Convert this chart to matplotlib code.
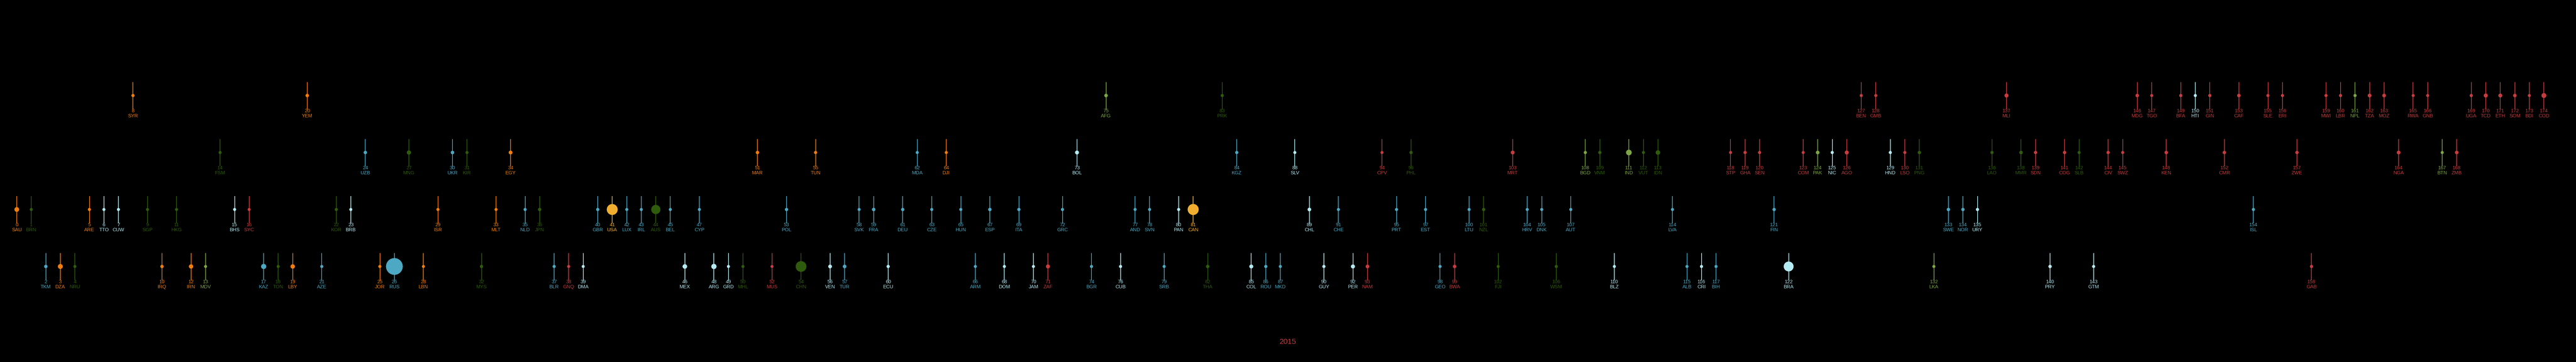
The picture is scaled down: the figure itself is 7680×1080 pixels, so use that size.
import matplotlib
matplotlib.use("Agg")
import matplotlib.pyplot as plt
from matplotlib import font_manager

# ranked countries, 2015
codes = ["SAU", "BRN", "TKM", "DZA", "NRU", "ARE", "TTO", "CUW", "SYR", "SGP",
         "IRQ", "HKG", "IRN", "MDV", "FSM", "BHS", "SYC", "KAZ", "TON", "LBY",
         "YEM", "AZE", "KOR", "BRB", "UZB", "JOR", "RUS", "MNG", "LBN", "ISR",
         "UKR", "KIR", "MYS", "MLT", "EGY", "NLD", "JPN", "BLR", "GNQ", "DMA",
         "GBR", "USA", "LUX", "IRL", "AUS", "BEL", "MEX", "CYP", "ARG", "GRD",
         "MHL", "MAR", "MUS", "POL", "CHN", "TUN", "VEN", "TUR", "SVK", "FRA",
         "ECU", "DEU", "MDA", "CZE", "DJI", "HUN", "ARM", "ESP", "DOM", "ITA",
         "JAM", "ZAF", "GRC", "BOL", "BGR", "AFG", "CUB", "AND", "SVN", "SRB",
         "PAN", "CAN", "THA", "PRK", "KGZ", "COL", "ROU", "MKD", "SLV", "CHL",
         "GUY", "CHE", "PER", "NAM", "CPV", "PRT", "PHL", "EST", "GEO", "BWA",
         "LTU", "NZL", "FJI", "MRT", "HRV", "DNK", "WSM", "AUT", "BGD", "VNM",
         "BLZ", "IND", "VUT", "IDN", "LVA", "ALB", "CRI", "BIH", "STP", "GHA",
         "SEN", "FIN", "BRA", "COM", "PAK", "NIC", "AGO", "BEN", "GMB", "HND",
         "LSO", "PNG", "LKA", "SWE", "NOR", "URY", "LAO", "MLI", "MMR", "SDN",
         "PRY", "COG", "SLB", "GTM", "CIV", "SWZ", "MDG", "TGO", "KEN", "BFA",
         "HTI", "GIN", "CMR", "CAF", "ISL", "SLE", "ERI", "ZWE", "GAB", "MWI",
         "LBR", "NPL", "TZA", "MOZ", "NGA", "RWA", "GNB", "BTN", "ZMB", "UGA",
         "TCD", "ETH", "SOM", "BDI", "COD"]

# income group: L low, M lower middle, H high, U upper middle
income = list("HHUUUHHHLH" "UHUUMHHUUU" "LUHHMUUMUH" "MMUHMHHUUU"
              "HHHHHHUHUU" "UMUHUMUUHH" "UHMHMHUHUH" "UUHMULUHHU"
              "HHULMUUUMH" "UHUUMHMHUU" "HHUMHHUHMM" "UMMMHUUUMM"
              "MHUMMMMLLM" "MMUHHHMLMM" "UMMUMMLLML" "LLMLHLLMUL"
              "LLLLMLLMML" "LLLLL")

# region: M mid-east/n.africa, E east asia/pacific, S south asia,
# C europe/central asia, A latin america, F sub-saharan africa, N north america
region = list("MECMEMAAME" "MEMSEAFCEM" "MCEACMCEMM" "CEEMMCECFA"
              "CNCCECACAA" "EMFCEMACCC" "ACCCMCCCAC" "AFCACSACCC"
              "ANEECACCAA" "ACAFFCECCF" "CEEFCCECSE" "ASEECCACFF"
              "FCAFSAFFFA" "FESCCAEFEF" "AFEAFFFFFF" "AFFFCFFFFF"
              "FSFFFFFSFF" "FFFFF")

# land area, million km2 (marker size)
area = [2.15, 0.006, 0.49, 2.38, 0.0, 0.08, 0.005, 0.0, 0.185, 0.0,
        0.435, 0.001, 1.63, 0.0, 0.0, 0.014, 0.0, 2.72, 0.0, 1.76,
        0.53, 0.087, 0.1, 0.0, 0.45, 0.089, 17.1, 1.56, 0.01, 0.022,
        0.6, 0.001, 0.33, 0.0, 1.0, 0.042, 0.378, 0.207, 0.028, 0.001,
        0.243, 9.83, 0.003, 0.07, 7.69, 0.03, 1.96, 0.009, 2.78, 0.0,
        0.0, 0.446, 0.002, 0.313, 9.6, 0.164, 0.916, 0.78, 0.049, 0.55,
        0.256, 0.357, 0.034, 0.079, 0.023, 0.093, 0.03, 0.506, 0.049, 0.301,
        0.011, 1.22, 0.132, 1.1, 0.111, 0.653, 0.11, 0.0, 0.02, 0.088,
        0.075, 9.98, 0.513, 0.12, 0.2, 1.14, 0.238, 0.026, 0.021, 0.756,
        0.215, 0.041, 1.29, 0.824, 0.004, 0.092, 0.3, 0.045, 0.07, 0.58,
        0.065, 0.27, 0.018, 1.03, 0.057, 0.043, 0.003, 0.084, 0.148, 0.331,
        0.023, 3.29, 0.012, 1.9, 0.065, 0.029, 0.051, 0.051, 0.001, 0.239,
        0.197, 0.338, 8.5, 0.002, 0.796, 0.13, 1.25, 0.115, 0.011, 0.112,
        0.03, 0.463, 0.066, 0.45, 0.385, 0.176, 0.237, 1.24, 0.677, 0.3,
        0.407, 0.342, 0.029, 0.109, 0.322, 0.017, 0.587, 0.057, 0.58, 0.274,
        0.028, 0.246, 0.475, 0.623, 0.103, 0.072, 0.118, 0.39, 0.268, 0.118,
        0.111, 0.147, 0.947, 0.8, 0.924, 0.026, 0.036, 0.038, 0.753, 0.241,
        1.28, 1.1, 0.638, 0.028, 2.34]

year = "2015"

row_of = {"L": 3, "M": 2, "H": 1, "U": 0}
colors = {"M": "#f27d0c", "E": "#2f5b0c", "S": "#7da544", "C": "#4ca8c3",
          "A": "#b5ebf3", "F": "#c63c3f", "N": "#f1ae2e"}

fam = "Liberation Sans Narrow"
try:
    font_manager.findfont(fam, fallback_to_default=False)
except Exception:
    fam = "Liberation Sans"

W, H = 7680, 1080
fig = plt.figure(figsize=(W / 100, H / 100), dpi=100, facecolor="black")
ax = fig.add_axes([0, 0, 1, 1])
ax.set_facecolor("black")
step = 43.3
row_h = 170.0
x0 = -50 / step
ax.set_xlim(x0, x0 + W / step)
y0 = -285 / row_h
ax.set_ylim(y0, y0 + H / row_h)
ax.axis("off")

pt = 0.72  # points per pixel at 100 dpi
for i, code in enumerate(codes):
    y = row_of[income[i]]
    c = colors[region[i]]
    ax.vlines(i, y - 41 / row_h, y + 40 / row_h, color=c, lw=2 * pt, zorder=1)
    d = 9 + 2.4 * area[i]
    ax.scatter([i], [y], s=(d * pt) ** 2, color=c, edgecolors="none", zorder=2)
    ax.annotate(str(i), (i, y), xytext=(0, -50 * pt), textcoords="offset points",
                ha="center", va="baseline", fontsize=10.5, color=c, family=fam)
    ax.annotate(code, (i, y), xytext=(0, -65 * pt), textcoords="offset points",
                ha="center", va="baseline", fontsize=10.5, color=c, family=fam)

fig.text(0.5, 1 - 1021 / H, year, ha="center", va="center", fontsize=16,
         color=colors["F"], family=fam)

fig.savefig("out.png", dpi=100, facecolor="black")
